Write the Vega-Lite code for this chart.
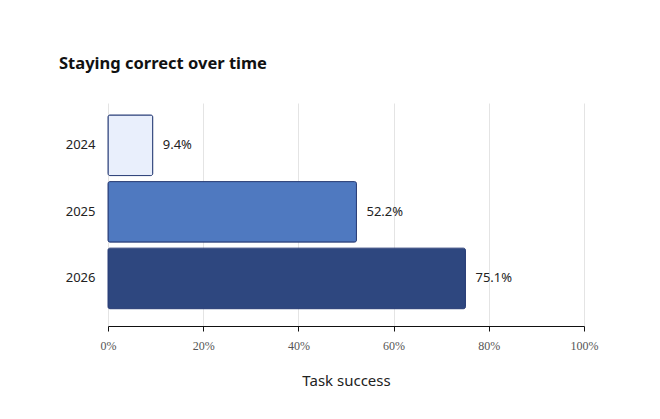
{
  "$schema": "https://vega.github.io/schema/vega-lite/v6.json",
  "autosize": "none",
  "width": 476,
  "height": 223,
  "padding": {"left": 108, "top": 103, "right": 76, "bottom": 93},
  "background": "white",
  "view": {"stroke": null},
  "title": {
    "text": "Staying correct over time",
    "anchor": "start",
    "frame": "group",
    "dx": -49,
    "offset": 31,
    "font": "Noto Sans",
    "fontSize": 16.5,
    "fontWeight": "bold",
    "color": "#111111"
  },
  "data": {
    "values": [
      {"year": "2024", "value": 9.4, "label": "9.4%"},
      {"year": "2025", "value": 52.2, "label": "52.2%"},
      {"year": "2026", "value": 75.1, "label": "75.1%"}
    ]
  },
  "encoding": {
    "y": {
      "field": "year",
      "type": "nominal",
      "sort": ["2024", "2025", "2026"],
      "scale": {"paddingInner": 0.09, "paddingOuter": 0.22, "align": 0.41},
      "axis": {
        "title": null,
        "domain": false,
        "ticks": false,
        "grid": false,
        "labelPadding": 13,
        "labelFont": "Noto Sans",
        "labelFontSize": 13,
        "labelColor": "#222222"
      }
    }
  },
  "layer": [
    {
      "mark": {"type": "bar", "stroke": "#2b3f78", "strokeWidth": 1, "cornerRadius": 2},
      "encoding": {
        "x": {
          "field": "value",
          "type": "quantitative",
          "scale": {"domain": [0, 100], "nice": false},
          "axis": {
            "values": [0, 20, 40, 60, 80, 100],
            "labelExpr": "datum.value + '%'",
            "labelFlush": false,
            "title": "Task success",
            "titleFont": "Noto Sans",
            "titleFontSize": 15,
            "titleFontWeight": "normal",
            "titleColor": "#222222",
            "titlePadding": 22,
            "labelFont": "Liberation Serif",
            "labelFontSize": 12,
            "labelColor": "#555555",
            "labelPadding": 9,
            "domainColor": "#111111",
            "domainWidth": 1,
            "tickColor": "#111111",
            "tickSize": 5,
            "grid": true,
            "gridColor": "#e4e4e4",
            "gridWidth": 1
          }
        },
        "fill": {
          "field": "year",
          "type": "nominal",
          "scale": {"domain": ["2024", "2025", "2026"], "range": ["#e9effc", "#4f79c0", "#2e477f"]},
          "legend": null
        }
      }
    },
    {
      "mark": {"type": "text", "align": "left", "baseline": "middle", "dx": 10, "font": "Noto Sans", "fontSize": 13, "color": "#222222"},
      "encoding": {
        "x": {"field": "value", "type": "quantitative"},
        "text": {"field": "label", "type": "nominal"}
      }
    }
  ]
}
